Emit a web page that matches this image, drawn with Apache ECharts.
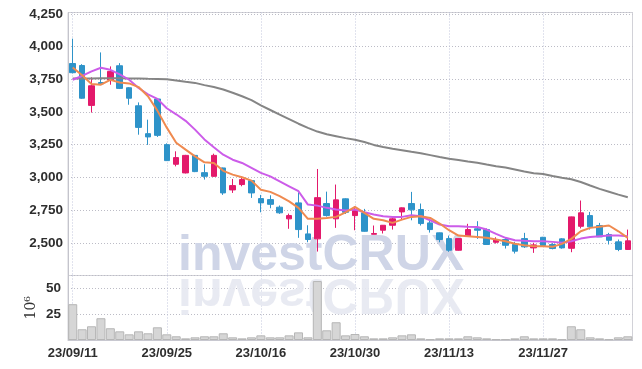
<!DOCTYPE html>
<html><head><meta charset="utf-8">
<script src="https://cdn.jsdelivr.net/npm/echarts@6/dist/echarts.min.js"></script>
<style>html,body{margin:0;padding:0;background:#fff}#c{width:642px;height:369px}</style>
</head><body><div id="c"></div>
<script>
const dates = ['23/09/11','23/09/12','23/09/13','23/09/14','23/09/15','23/09/18','23/09/19','23/09/20','23/09/21','23/09/22',
'23/09/25','23/09/26','23/09/27','23/10/04','23/10/05','23/10/06','23/10/10','23/10/11','23/10/12','23/10/13',
'23/10/16','23/10/17','23/10/18','23/10/19','23/10/20','23/10/23','23/10/24','23/10/25','23/10/26','23/10/27',
'23/10/30','23/10/31','23/11/01','23/11/02','23/11/03','23/11/06','23/11/07','23/11/08','23/11/09','23/11/10',
'23/11/13','23/11/14','23/11/15','23/11/16','23/11/17','23/11/20','23/11/21','23/11/22','23/11/23','23/11/24',
'23/11/27','23/11/28','23/11/29','23/11/30','23/12/01','23/12/04','23/12/05','23/12/06','23/12/07','23/12/08'];
const opens  = [3870,3855,3550,3725,3745,3853,3685,3547,3334,3599, 3250,3100,3034,3168,3036,3008,3072,2904,2945,2975,
                2838,2830,2772,2683,2805,2568,2530,2800,2683,2836, 2708,2729,2565,2596,2634,2736,2800,2754,2652,2576,
                2532,2443,2550,2607,2601,2504,2525,2487,2532,2461, 2542,2487,2530,2458,2626,2708,2632,2563,2507,2449];
const closes = [3800,3605,3700,3715,3810,3680,3605,3382,3309,3321, 3128,3151,3168,3044,3008,3168,2881,2937,2983,2881,
                2805,2794,2729,2708,2601,2525,2845,2708,2828,2733, 2746,2588,2571,2634,2683,2767,2752,2647,2601,2525,
                2443,2532,2601,2596,2487,2525,2481,2436,2469,2484, 2479,2456,2461,2698,2729,2622,2545,2519,2449,2515];
const lows   = [3795,3600,3495,3708,3708,3675,3555,3326,3248,3309, 3125,3084,3030,3040,2983,3005,2866,2881,2932,2843,
                2733,2764,2721,2607,2538,2504,2433,2700,2614,2720, 2596,2585,2565,2571,2601,2677,2672,2632,2578,2504,
                2431,2440,2545,2530,2485,2494,2456,2418,2461,2423, 2475,2450,2455,2428,2610,2601,2545,2487,2436,2445];
const highs  = [4060,3865,3765,3955,3848,3873,3690,3573,3441,3605, 3260,3199,3172,3172,3100,3181,3075,2988,3008,2980,
                2866,2863,2785,2723,2886,2634,3064,2891,2945,2840, 2779,2759,2632,2636,2698,2770,2889,2800,2670,2578,
                2555,2535,2645,2665,2610,2542,2538,2507,2576,2500, 2545,2497,2535,2700,2823,2736,2652,2576,2525,2601];
const volumes = [34.7,10.4,13.3,21.1,11.4,8.4,5.5,8.4,6.5,12.3, 5.5,3.6,1.6,2.6,3.6,3.6,6.5,2.6,1.6,2.6,
                 4.5,2.6,2.6,4.5,7.4,2.6,57.1,9.4,17.2,4.5, 5.8,3.6,1.6,1.6,2.6,4.5,5.5,1.6,0.7,1.6,
                 1.6,1.6,3.6,2.6,1.6,0.7,0.7,1.6,3.6,1.6, 1.6,1.6,0.7,13.3,10.4,2.6,1.6,0.7,2.6,3.6];
const maShort = [3840,3780,3713,3708,3745,3725,3718,3690,3620,3510, 3380,3265,3212,3160,3115,3110,3050,3021,3001,2975,
                 2906,2889,2856,2817,2767,2683,2683,2690,2698,2733, 2774,2729,2683,2672,2652,2677,2698,2703,2690,2647,
                 2596,2555,2550,2545,2538,2525,2512,2492,2481,2474, 2474,2469,2492,2530,2588,2614,2622,2632,2588,2538];
const maMid = [3746,3775,3810,3838,3822,3787,3746,3683,3635,3600, 3528,3482,3432,3365,3290,3230,3173,3135,3110,3072,
               3034,3008,2970,2932,2894,2792,2784,2767,2754,2746, 2754,2733,2716,2703,2698,2698,2710,2703,2672,2639,
               2626,2626,2622,2620,2601,2568,2538,2519,2515,2512, 2512,2507,2500,2512,2532,2545,2550,2555,2555,2550];
const maLong = [3755,3756,3756,3757,3757,3757,3756,3755,3753,3752, 3750,3740,3730,3722,3705,3690,3672,3647,3620,3590,
                3550,3515,3480,3445,3410,3378,3350,3330,3315,3300, 3288,3270,3248,3232,3218,3208,3195,3185,3170,3155,
                3143,3133,3122,3112,3098,3085,3075,3060,3045,3032, 3025,3010,2997,2985,2965,2938,2912,2890,2868,2848];
const priceMin = 2250, priceMax = 4260, priceStep = 250;
const volMax = 62.5, volStep = 25;
const volUnit = '10⁶';
const watermark = 'investCRUX';

const candleData = dates.map((d, i) => [opens[i], closes[i], lows[i], highs[i]]);
const labelFont = "'Liberation Sans', Arial, sans-serif";
const hGrid = {show: true, lineStyle: {type: [1, 2], color: '#bcbcc6', width: 1}};
const vGrid = {show: true, interval: 9, alignWithLabel: true, lineStyle: {type: [1, 2], color: '#c2c6dc', width: 1}};

const chart = echarts.init(document.getElementById('c'), null, {renderer: 'canvas'});
chart.setOption({
  animation: false,
  backgroundColor: '#ffffff',
  grid: [
    {left: 68, right: 9.5, top: 12.5, height: 263, show: true, borderColor: '#d2d2d8', borderWidth: 1, outerBoundsMode: 'none', containLabel: false},
    {left: 68, right: 9.5, top: 275.5, height: 64.5, show: true, borderColor: '#d2d2d8', borderWidth: 1, outerBoundsMode: 'none', containLabel: false}
  ],
  xAxis: [
    {type: 'category', gridIndex: 0, data: dates, boundaryGap: true,
     axisLine: {show: false}, axisTick: {show: false, interval: 9, alignWithLabel: true}, axisLabel: {show: false, interval: 9},
     splitLine: vGrid},
    {type: 'category', gridIndex: 1, data: dates, boundaryGap: true,
     axisLine: {show: true, lineStyle: {color: '#c8c8d0'}}, axisTick: {show: false, interval: 9, alignWithLabel: true},
     axisLabel: {interval: 9, fontFamily: labelFont, fontWeight: 'bold', fontSize: 13, color: '#2e2e2e', margin: 7},
     splitLine: vGrid}
  ],
  yAxis: [
    {type: 'value', gridIndex: 0, min: priceMin, max: priceMax, interval: priceStep,
     axisLine: {show: true, lineStyle: {color: '#c4c4cc'}}, axisTick: {show: false},
     axisLabel: {showMinLabel: false, showMaxLabel: false, fontFamily: labelFont, fontWeight: 'bold', fontSize: 13.5, color: '#2e2e2e', margin: 5,
       formatter: v => v.toLocaleString('en-US')},
     splitLine: hGrid},
    {type: 'value', gridIndex: 1, min: 0, max: volMax, interval: volStep,
     name: volUnit, nameLocation: 'middle', nameRotate: 90, nameGap: 30, nameMoveOverlap: false,
     nameTextStyle: {fontFamily: "'DejaVu Serif','Liberation Serif',serif", fontSize: 14, color: '#333'},
     axisLine: {show: true, lineStyle: {color: '#c4c4cc'}}, axisTick: {show: false},
     axisLabel: {showMinLabel: false, showMaxLabel: false, fontFamily: labelFont, fontWeight: 'bold', fontSize: 13.5, color: '#2e2e2e', margin: 7},
     splitLine: hGrid}
  ],
  graphic: [
    {type: 'text', z: 1, silent: true, style: {x: 178, y: 256, text: watermark, fill: '#cfd5e7',
      font: "bold 50px 'Liberation Sans', Arial, sans-serif", textAlign: 'left', verticalAlign: 'middle'}},
    {type: 'text', z: 1, silent: true, x: 0, y: 548.4, scaleY: -1, style: {x: 178, y: 256, text: watermark, fill: '#e5e8f1', opacity: 0.9,
      font: "bold 50px 'Liberation Sans', Arial, sans-serif", textAlign: 'left', verticalAlign: 'middle'}}
  ],
  series: [
    {type: 'candlestick', xAxisIndex: 0, yAxisIndex: 0, data: candleData, barWidth: 6, z: 3,
     itemStyle: {color: '#e3196b', color0: '#2e93c9', borderColor: '#e3196b', borderColor0: '#2e93c9', borderWidth: 1}},
    {type: 'line', xAxisIndex: 0, yAxisIndex: 0, data: maLong, symbol: 'none', z: 4, lineStyle: {color: '#858585', width: 2}},
    {type: 'line', xAxisIndex: 0, yAxisIndex: 0, data: maMid, symbol: 'none', z: 4, lineStyle: {color: '#cc5ce9', width: 2}},
    {type: 'line', xAxisIndex: 0, yAxisIndex: 0, data: maShort, symbol: 'none', z: 4, lineStyle: {color: '#ef8a50', width: 2}},
    {type: 'bar', xAxisIndex: 1, yAxisIndex: 1, data: volumes, barCategoryGap: '4%', z: 3,
     itemStyle: {color: '#d6d6d6', borderColor: '#b6b6b6', borderWidth: 1}}
  ]
});
</script></body></html>
